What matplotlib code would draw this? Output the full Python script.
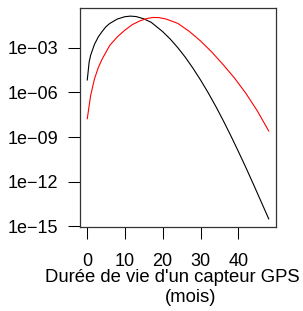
import matplotlib.pyplot as plt
from matplotlib.ticker import FixedLocator, NullLocator

# courbe noire (mois, densité)
mois_noir = [0.1, 0.6, 1, 2, 3, 4, 5, 6, 8, 10, 11.5, 13, 15, 17, 20, 22, 24,
             26, 28, 30, 32, 34, 36, 38, 40, 42, 44, 46, 48]
dens_noir = [6.76e-6, 1.10e-4, 3.16e-4, 1.66e-3, 5.25e-3, 1.20e-2, 2.51e-2,
             4.17e-2, 8.32e-2, 0.120, 0.132, 0.123, 0.0871, 0.0501, 0.0120,
             3.80e-3, 1.0e-3, 2.24e-4, 4.17e-5, 6.76e-6, 9.55e-7, 1.17e-7,
             1.26e-8, 1.20e-9, 1.05e-10, 8.51e-12, 6.31e-13, 4.47e-14, 3.16e-15]

# courbe rouge
mois_rouge = [0.1, 1, 2, 3, 4, 6, 8, 10, 12, 14, 16, 17.5, 19, 21, 24, 27,
              30, 33, 36, 39, 42, 45, 48]
dens_rouge = [1.70e-8, 6.31e-7, 7.94e-6, 4.47e-5, 1.66e-4, 1.38e-3, 5.25e-3,
              1.48e-2, 3.55e-2, 6.31e-2, 9.33e-2, 0.107, 0.105, 0.0832, 0.0427,
              0.0126, 2.82e-3, 5.01e-4, 7.08e-5, 8.91e-6, 8.32e-7, 5.62e-8,
              2.51e-9]

x_ticks = [0, 10, 20, 30, 40]
y_ticks = [1e-15, 1e-12, 1e-9, 1e-6, 1e-3]
y_labels = ["1e\u221215", "1e\u221212", "1e\u221209", "1e\u221206", "1e\u221203"]

plt.rcParams['font.family'] = ['Liberation Sans', 'DejaVu Sans']
plt.rcParams['font.size'] = 13

fig = plt.figure(figsize=(3.03, 3.11), dpi=100)
ax = fig.add_axes([80/303, 1 - 227/311, 196/303, 219/311])

ax.plot(mois_noir, dens_noir, color='black', lw=0.8)
ax.plot(mois_rouge, dens_rouge, color='red', lw=0.8)

ax.set_yscale('log')
ax.margins(x=0.04, y=0.04)

ax.xaxis.set_major_locator(FixedLocator(x_ticks))
ax.yaxis.set_major_locator(FixedLocator(y_ticks))
ax.yaxis.set_minor_locator(NullLocator())
ax.set_yticklabels(y_labels)

ax.tick_params(direction='out', length=8.5, width=0.75, colors='black')
ax.tick_params(axis='x', pad=10)
ax.tick_params(axis='y', pad=7)
for s in ax.spines.values():
    s.set_linewidth(0.9)
    s.set_color('#333333')

fig.text(172/303, 1 - 277/311, "Durée de vie d'un capteur GPS", ha='center',
         va='center', fontsize=13.3)
fig.text(191/303, 1 - 298/311, "(mois)", ha='center', va='center', fontsize=13.3)

fig.savefig('out.png', dpi=100)
